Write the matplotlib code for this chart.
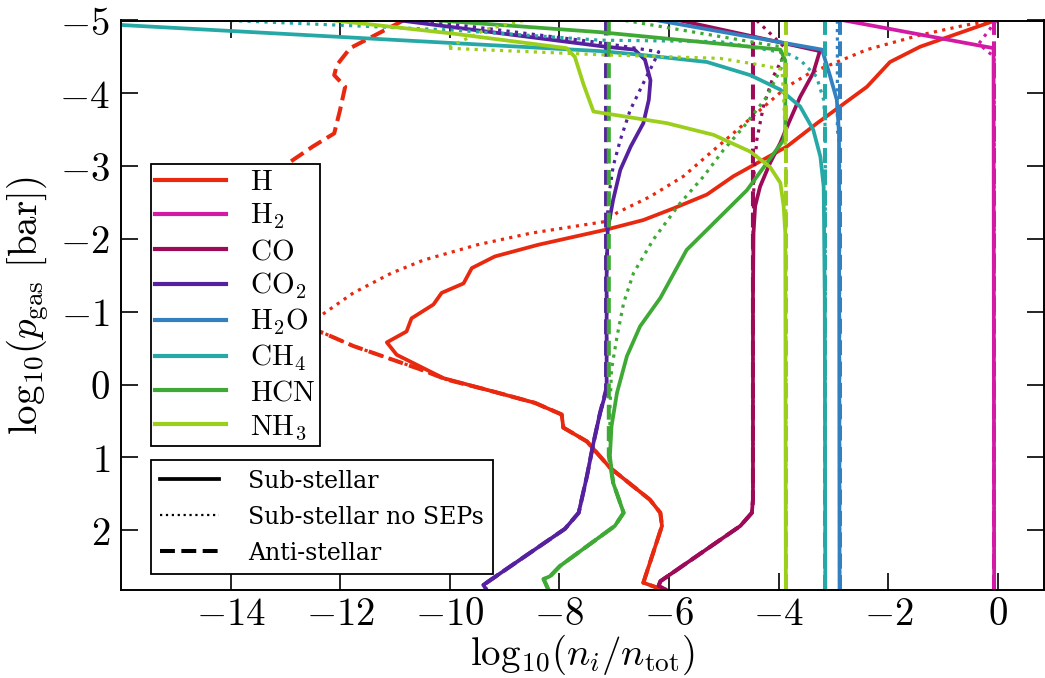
import matplotlib
matplotlib.use('Agg')
import matplotlib.pyplot as plt
from matplotlib.lines import Line2D
from matplotlib.legend_handler import HandlerLine2D
from matplotlib.ticker import FuncFormatter

plt.rcParams['mathtext.fontset'] = 'cm'
plt.rcParams['font.family'] = ['DejaVu Serif']

# ---------------- data (log10 mixing ratio, log10 pressure) ----------------
species = ['H', 'H2', 'CO', 'CO2', 'H2O', 'CH4', 'HCN', 'NH3']
species_labels = [r'$\mathrm{H}$', r'$\mathrm{H_2}$', r'$\mathrm{CO}$', r'$\mathrm{CO_2}$',
                  r'$\mathrm{H_2O}$', r'$\mathrm{CH_4}$', r'$\mathrm{HCN}$', r'$\mathrm{NH_3}$']
species_colors = ['#e8290f', '#d21aa5', '#9c0a58', '#55219e', '#3380c0', '#26a9a6', '#3fa935', '#9bcf1c']
style_labels = ['Sub-stellar', 'Sub-stellar no SEPs', 'Anti-stellar']

# H
H_sub_x = [-0.05, -1.42, -1.97, -2.39, -2.88, -3.30, -3.85, -4.40, -4.83, -5.31, -5.92, -6.47, -7.14,
           -8.39, -9.18, -9.60, -9.75, -10.15, -10.30, -10.70, -10.79, -11.15, -10.97, -10.12, -9.33,
           -8.45, -7.96, -7.93, -7.50, -7.08, -6.35, -6.16, -6.13, -6.47, -6.10]
H_sub_y = [-5.0, -4.64, -4.43, -4.09, -3.82, -3.59, -3.27, -3.04, -2.86, -2.61, -2.42, -2.26, -2.13,
           -1.92, -1.76, -1.60, -1.39, -1.26, -1.10, -0.91, -0.73, -0.58, -0.41, -0.09, 0.07,
           0.25, 0.41, 0.59, 0.78, 1.14, 1.58, 1.76, 1.94, 2.72, 2.82]
H_nosep_x = [-0.05, -0.57, -1.42, -2.39, -3.00, -3.43, -3.85, -4.34, -4.83, -5.25, -5.74, -6.35, -6.95,
             -7.16, -8.52, -9.50, -10.48, -11.07, -11.76, -12.37, -12.60, -12.31, -11.76, -11.15, -10.54,
             -10.06, -9.33, -8.45, -7.96, -7.93, -7.50, -7.08, -6.35, -6.16, -6.13, -6.47, -6.10]
H_nosep_y = [-5.0, -4.94, -4.80, -4.60, -4.41, -4.28, -4.09, -3.77, -3.45, -3.18, -2.86, -2.58, -2.36,
             -2.24, -2.08, -1.92, -1.71, -1.53, -1.26, -0.94, -0.82, -0.71, -0.53, -0.37, -0.21,
             -0.07, 0.07, 0.25, 0.41, 0.59, 0.78, 1.14, 1.58, 1.76, 1.94, 2.72, 2.82]
H_anti_x = [-10.85, -11.82, -12.06, -12.11, -11.91, -12.01, -12.11, -12.50, -12.95, -13.60, -13.30,
            -12.60, -12.31, -11.76, -11.15, -10.54, -10.06, -9.33, -8.45, -7.96, -7.93, -7.50, -7.08,
            -6.35, -6.16, -6.13, -6.47, -6.10]
H_anti_y = [-5.0, -4.62, -4.39, -4.25, -4.09, -3.75, -3.45, -3.27, -3.04, -2.00, -1.20,
            -0.78, -0.71, -0.53, -0.37, -0.21, -0.07, 0.07, 0.25, 0.41, 0.59, 0.78, 1.14,
            1.58, 1.76, 1.94, 2.72, 2.82]

# H2
H2_sub_x = [-2.80, -0.08, -0.07]
H2_sub_y = [-5.0, -4.62, 2.82]
H2_nosep_x = [-0.03, -0.35, -0.07, -0.07]
H2_nosep_y = [-5.0, -4.68, -4.50, 2.82]
H2_anti_x = [-0.07, -0.07]
H2_anti_y = [-5.0, 2.82]

# CO
CO_sub_x = [-5.80, -3.25, -3.37, -3.61, -3.82, -3.97, -4.16, -4.34, -4.43, -4.46, -4.47, -4.47,
            -4.49, -4.70, -6.16, -6.19, -6.05]
CO_sub_y = [-5.0, -4.58, -4.28, -3.95, -3.59, -3.32, -3.04, -2.72, -2.45, -2.08, -1.20, 1.58,
            1.76, 1.94, 2.70, 2.76, 2.82]
CO_nosep_x = [-4.40, -3.85, -4.10, -4.28, -4.40, -4.45, -4.47, -4.47, -4.49, -4.70, -6.16, -6.19, -6.05]
CO_nosep_y = [-5.0, -4.60, -4.23, -3.82, -3.36, -2.90, -2.00, 1.58, 1.76, 1.94, 2.70, 2.76, 2.82]
CO_anti_x = [-4.47, -4.47, -4.49, -4.70, -6.16, -6.19, -6.05]
CO_anti_y = [-5.0, 1.58, 1.76, 1.94, 2.70, 2.76, 2.82]

# CO2
CO2_sub_x = [-10.90, -7.16, -6.63, -6.44, -6.34, -6.37, -6.47, -6.70, -6.89, -7.02, -7.12, -7.14,
             -7.14, -7.26, -7.38, -7.50, -7.65, -7.90, -9.33, -9.39, -9.33]
CO2_sub_y = [-5.0, -4.64, -4.60, -4.46, -4.18, -3.91, -3.59, -3.27, -2.95, -2.54, -2.13, -1.50,
             0.07, 0.39, 0.80, 1.26, 1.76, 1.98, 2.72, 2.75, 2.82]
CO2_nosep_x = [-10.50, -7.30, -6.95, -6.19, -6.29, -6.47, -6.71, -6.89, -7.02, -7.11, -7.14, -7.14,
               -7.26, -7.38, -7.50, -7.65, -7.90, -9.33, -9.39, -9.33]
CO2_nosep_y = [-5.0, -4.70, -4.66, -4.57, -4.41, -4.14, -3.77, -3.36, -3.00, -2.54, -2.00, 0.07,
               0.39, 0.80, 1.26, 1.76, 1.98, 2.72, 2.75, 2.82]
CO2_anti_x = [-7.15, -7.15, -7.26, -7.38, -7.50, -7.65, -7.90, -9.33, -9.39, -9.33]
CO2_anti_y = [-5.0, 0.07, 0.39, 0.80, 1.26, 1.76, 1.98, 2.72, 2.75, 2.82]

# H2O
H2O_sub_x = [-6.20, -3.21, -3.06, -2.94, -2.90, -2.89]
H2O_sub_y = [-5.0, -4.60, -4.23, -3.91, -3.45, 2.82]
H2O_nosep_x = [-2.93, -2.93, -2.89, -2.89]
H2O_nosep_y = [-5.0, -3.50, -3.30, 2.82]
H2O_anti_x = [-2.89, -2.89]
H2O_anti_y = [-5.0, 2.82]

# CH4
CH4_sub_x = [-17.50, -7.26, -6.53, -5.31, -4.52, -3.97, -3.61, -3.37, -3.24, -3.18, -3.16, -3.15]
CH4_sub_y = [-5.0, -4.58, -4.53, -4.43, -4.25, -4.05, -3.82, -3.50, -3.13, -2.72, -1.20, 2.82]
CH4_nosep_x = [-14.00, -10.00, -7.26, -5.07, -3.85, -3.61, -3.31, -3.18, -3.15, -3.15]
CH4_nosep_y = [-5.0, -4.87, -4.73, -4.71, -4.55, -4.46, -4.23, -3.91, -3.50, 2.82]
CH4_anti_x = [-3.15, -3.15]
CH4_anti_y = [-5.0, 2.82]

# HCN
HCN_sub_x = [-10.20, -7.26, -3.97, -3.88, -3.88, -3.91, -4.22, -4.58, -5.13, -5.68, -6.16, -6.53,
             -6.77, -6.95, -7.05, -7.08, -7.02, -6.83, -6.99, -7.99, -8.17, -8.29, -8.20]
HCN_sub_y = [-5.0, -4.84, -4.60, -4.45, -3.50, -3.36, -3.04, -2.67, -2.26, -1.85, -1.19, -0.80,
             -0.39, 0.11, 0.57, 0.98, 1.35, 1.76, 1.94, 2.49, 2.63, 2.67, 2.82]
HCN_nosep_x = [-6.80, -3.97, -3.94, -4.22, -4.64, -5.01, -5.37, -5.80, -6.29, -6.65, -6.83, -6.95,
               -7.05, -7.08, -7.08, -7.02, -6.83, -6.99, -7.99, -8.17, -8.29, -8.20]
HCN_nosep_y = [-5.0, -4.64, -4.37, -3.95, -3.54, -3.22, -2.86, -2.49, -1.99, -1.53, -1.12, -0.66,
               -0.21, 0.34, 0.98, 1.35, 1.76, 1.94, 2.49, 2.63, 2.67, 2.82]
HCN_anti_x = [-7.10, -7.10, -7.02, -6.83, -6.99, -7.99, -8.17, -8.29, -8.20]
HCN_anti_y = [-5.0, 0.98, 1.35, 1.76, 1.94, 2.49, 2.63, 2.67, 2.82]

# NH3
NH3_sub_x = [-12.10, -9.94, -7.87, -7.72, -7.56, -7.38, -6.04, -5.19, -4.52, -4.16, -3.97, -3.91,
             -3.88, -3.87]
NH3_sub_y = [-5.0, -4.82, -4.62, -4.50, -4.12, -3.75, -3.59, -3.43, -3.20, -2.99, -2.77, -2.45,
             -2.08, 2.82]
NH3_nosep_x = [-8.66, -9.33, -10.06, -7.26, -5.07, -4.34, -3.94, -3.90, -3.87, -3.87]
NH3_nosep_y = [-5.0, -4.88, -4.62, -4.53, -4.48, -4.39, -4.33, -3.80, -3.00, 2.82]
NH3_anti_x = [-3.87, -3.87]
NH3_anti_y = [-5.0, 2.82]

profiles = {
    'H':   [(H_sub_x, H_sub_y), (H_nosep_x, H_nosep_y), (H_anti_x, H_anti_y)],
    'H2':  [(H2_sub_x, H2_sub_y), (H2_nosep_x, H2_nosep_y), (H2_anti_x, H2_anti_y)],
    'CO':  [(CO_sub_x, CO_sub_y), (CO_nosep_x, CO_nosep_y), (CO_anti_x, CO_anti_y)],
    'CO2': [(CO2_sub_x, CO2_sub_y), (CO2_nosep_x, CO2_nosep_y), (CO2_anti_x, CO2_anti_y)],
    'H2O': [(H2O_sub_x, H2O_sub_y), (H2O_nosep_x, H2O_nosep_y), (H2O_anti_x, H2O_anti_y)],
    'CH4': [(CH4_sub_x, CH4_sub_y), (CH4_nosep_x, CH4_nosep_y), (CH4_anti_x, CH4_anti_y)],
    'HCN': [(HCN_sub_x, HCN_sub_y), (HCN_nosep_x, HCN_nosep_y), (HCN_anti_x, HCN_anti_y)],
    'NH3': [(NH3_sub_x, NH3_sub_y), (NH3_nosep_x, NH3_nosep_y), (NH3_anti_x, NH3_anti_y)],
}

x_ticks = [-14, -12, -10, -8, -6, -4, -2, 0]
y_ticks = [-5, -4, -3, -2, -1, 0, 1, 2]


class InsetLineHandler(HandlerLine2D):
    """Legend line that starts a little to the right of the handle box."""
    def create_artists(self, legend, orig_handle, xdescent, ydescent, width, height,
                       fontsize, trans):
        artists = super().create_artists(legend, orig_handle, xdescent, ydescent, width,
                                         height, fontsize, trans)
        for a in artists:
            xd = list(a.get_xdata())
            if len(xd) == 2:
                a.set_xdata([xd[0] + 0.15 * width, xd[1]])
        return artists


# ---------------- figure ----------------
fig = plt.figure(figsize=(10.45, 6.78), dpi=100)
ax = fig.add_axes([121 / 1045, 88 / 678, 923 / 1045, 569.5 / 678])

styles = ['-', ':', '--']
widths = [2.7, 2.3, 2.9]
for sp, col in zip(species, species_colors):
    for (xs, ys), ls, lw in zip(profiles[sp], styles, widths):
        ax.plot(xs, ys, color=col, ls=ls, lw=lw)

ax.set_xlim(-16, 0.84)
ax.set_ylim(2.82, -5)
ax.set_xticks(x_ticks)
ax.set_yticks(y_ticks)
fmt = FuncFormatter(lambda v, p: r'$%d$' % round(v))
ax.xaxis.set_major_formatter(fmt)
ax.yaxis.set_major_formatter(fmt)
ax.tick_params(direction='in', length=12, width=1.2, labelsize=28, top=True, right=True)
ax.tick_params(axis='x', pad=4)
ax.tick_params(axis='y', pad=8)
for s in ax.spines.values():
    s.set_linewidth(1.4)

ax.set_xlabel(r'$\mathrm{log}_{10}(n_i/n_{\rm tot})$', fontsize=28, labelpad=0)
ax.set_ylabel(r'$\mathrm{log}_{10}(p_{\rm gas}\ [\rm bar])$', fontsize=28, labelpad=6)

sp_handles = [Line2D([], [], color=c, lw=3) for c in species_colors]
leg1 = ax.legend(sp_handles, species_labels, loc='upper left', bbox_to_anchor=(0.0325, 0.748),
                 borderaxespad=0, fontsize=21, frameon=True, fancybox=False, framealpha=1,
                 edgecolor='black', handlelength=2.42, handletextpad=0.82, labelspacing=0.2,
                 borderpad=0.15, handler_map={Line2D: InsetLineHandler()})
leg1.get_frame().set_linewidth(1.3)
ax.add_artist(leg1)

st_handles = [Line2D([], [], color='black', ls='-', lw=2.7),
              Line2D([], [], color='black', ls=':', lw=1.6),
              Line2D([], [], color='black', ls='--', lw=2.9)]
leg2 = ax.legend(st_handles, style_labels, loc='upper left', bbox_to_anchor=(0.0325, 0.228),
                 borderaxespad=0, fontsize=17, frameon=True, fancybox=False, framealpha=1,
                 edgecolor='black', handlelength=2.5, handletextpad=1.2, labelspacing=0.55,
                 borderpad=0.4)
leg2.get_frame().set_linewidth(1.3)

fig.savefig('out.png', dpi=100)
